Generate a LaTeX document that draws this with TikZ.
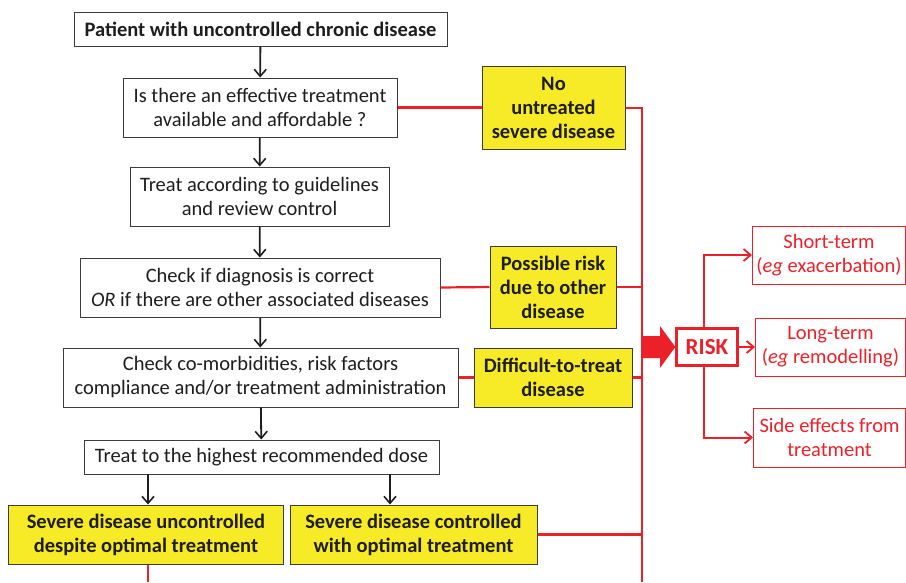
\documentclass[tikz,border=0pt]{standalone}
\usepackage{fontspec}
\setmainfont{Carlito}
\usetikzlibrary{arrows.meta}
\definecolor{ylw}{RGB}{246,235,38}
\definecolor{rd}{RGB}{236,32,40}
\definecolor{txt}{RGB}{30,30,30}
\definecolor{bd}{RGB}{60,60,60}
\tikzset{
  box/.style={draw=bd, line width=1pt, fill=white, text=txt, align=center, inner sep=0pt,
    font=\fontsize{20.5}{24}\selectfont},
  ybox/.style={box, fill=ylw, font=\fontsize{20.5}{24}\selectfont\bfseries},
  rbox/.style={draw=rd, line width=1pt, text=rd, align=center, inner sep=0pt,
    font=\fontsize{20.5}{24}\selectfont},
  blk/.style={draw=txt, line width=1.8pt, -{Straight Barb[length=7pt,width=12pt,line width=1.6pt]}},
  rln/.style={draw=rd, line width=2.2pt},
  rarr/.style={draw=rd, line width=2pt, -{Straight Barb[length=7pt,width=12pt,line width=1.8pt]}},
}
\begin{document}
\begin{tikzpicture}[x=1pt,y=-1pt]
\useasboundingbox (0,0) rectangle (906,582);
% main column
\node[box, font=\fontsize{20.5}{24}\selectfont\bfseries, minimum width=373, minimum height=34] (b1) at (260.5,29) {Patient with uncontrolled chronic disease};
\node[box, minimum width=274, minimum height=59] (b2) at (260,107.5) {Is there an effective treatment\\available and affordable ?};
\node[box, minimum width=259, minimum height=59] (b3) at (259.5,196.5) {Treat according to guidelines\\and review control};
\node[box, minimum width=360, minimum height=59] (b4) at (260,287.5) {Check if diagnosis is correct\\\textit{OR} if there are other associated diseases};
\node[box, minimum width=395, minimum height=59] (b5) at (260.5,377.5) {Check co-morbidities, risk factors\\compliance and/or treatment administration};
\node[box, minimum width=355, minimum height=34] (b6) at (261.5,457) {Treat to the highest recommended dose};
\node[ybox, minimum width=275, minimum height=59] (b7) at (146,534.5) {Severe disease uncontrolled\\despite optimal treatment};
\node[ybox, minimum width=247, minimum height=59] (b8) at (413.5,534.5) {Severe disease controlled\\with optimal treatment};
% yellow side boxes
\node[ybox, minimum width=143, minimum height=83] (y1) at (553.5,107.5) {No\\untreated\\severe disease};
\node[ybox, minimum width=126, minimum height=82] (y2) at (553,287) {Possible risk\\due to other\\disease};
\node[ybox, minimum width=158, minimum height=59] (y3) at (553,377.5) {Difficult-to-treat\\disease};
% risk
\node[rbox, line width=2.4pt, font=\fontsize{23}{24}\selectfont\bfseries, minimum width=61, minimum height=37] (risk) at (707,347) {RISK};
\node[rbox, minimum width=153, minimum height=58] (s1) at (829,255) {Short-term\\(\textit{eg} exacerbation)};
\node[rbox, minimum width=150, minimum height=58] (s2) at (830.5,347) {Long-term\\(\textit{eg} remodelling)};
\node[rbox, minimum width=152, minimum height=59] (s3) at (829.5,437.5) {Side effects from\\treatment};
% black arrows
\draw[blk] (b1) -- (b2);
\draw[blk] (b2) -- (b3);
\draw[blk] (b3) -- (b4);
\draw[blk] (b4) -- (b5);
\draw[blk] (b5) -- (b6);
\coordinate (a7) at (148,474);
\coordinate (a8) at (390,474);
\draw[blk] (a7) -- (a7 |- b7.north);
\draw[blk] (a8) -- (a8 |- b8.north);
% red connectors
\coordinate (top) at (642,108);
\coordinate (bot) at (642,582);
\draw[rln] (b2.east) -- (y1.west);
\draw[rln] (y1.east |- top) -- (top) -- (bot);
\draw[rln] (b4.east) -- (y2.west);
\draw[rln] (y2.east) -- (y2.east -| top);
\draw[rln] (b5.east) -- (y3.west);
\draw[rln] (y3.east) -- (y3.east -| top);
\draw[rln] (b8.east) -- (b8.east -| top);
\draw[rln] (a7 |- b7.south) -- (a7 |- bot);
% block arrow
\fill[rd] (642,336) -- (660,336) -- (660,326) -- (risk.west) -- (660,368) -- (660,358) -- (642,358) -- cycle;
% risk arrows
\coordinate (rx) at (703.5,347);
\draw[rarr] (rx |- risk.north) |- (s1.west);
\draw[rarr] (risk.east) -- (s2.west);
\draw[rarr] (rx |- risk.south) |- (s3.west);
\end{tikzpicture}
\end{document}
